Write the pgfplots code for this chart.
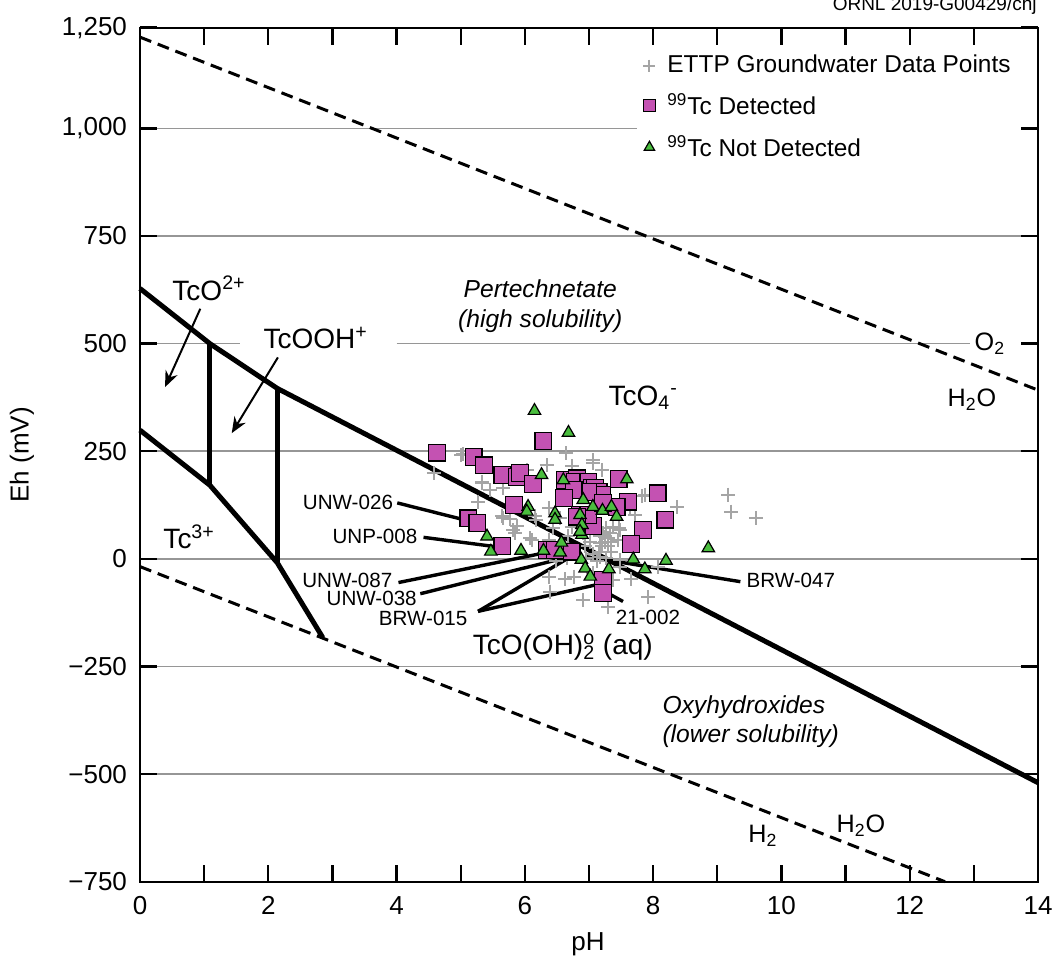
\documentclass[border=0pt]{standalone}
\usepackage{fontspec}
\setmainfont{Liberation Sans}
\usepackage{pgfplots}
\pgfplotsset{compat=1.18}
\usetikzlibrary{arrows.meta}
\definecolor{mag}{RGB}{196,82,178}
\definecolor{grn}{RGB}{74,190,62}
\definecolor{xgray}{RGB}{165,165,165}
\definecolor{ggray}{RGB}{150,150,150}
\begin{document}
\begin{tikzpicture}
\useasboundingbox (-70pt,-40pt) rectangle (456pt,440.85pt);
\begin{axis}[
  at={(0,0)}, anchor=south west,
  scale only axis, width=449pt, height=427pt,
  xmin=0, xmax=14, ymin=-750, ymax=1234,
  xtick={0,2,...,14}, minor xtick={1,3,5,7,9,11,13},
  xticklabels={0,2,4,6,8,10,12,14},
  ytick={-750,-500,-250,0,250,500,750,1000},
  yticklabels={−750,−500,−250,0,250,500,750,1{,}000},
  extra y ticks={1234}, extra y tick labels={1{,}250},
  extra tick style={grid=none},
  xtick pos=both, ytick pos=both,
  tick align=inside, major tick length=8.5pt, minor tick length=8.5pt,
  every tick/.style={black, line width=1.2pt},
  axis line style={line width=1pt},
  axis on top,
  ticklabel style={font=\fontsize{13}{15}\selectfont},
  yticklabel style={xshift=-3pt},
  xticklabel style={yshift=-4pt},
  xlabel={pH}, ylabel={Eh (mV)},
  label style={font=\fontsize{13}{15}\selectfont},
  xlabel style={at={(axis description cs:0.499,-0.0738)}, anchor=center},
  ylabel style={at={(axis description cs:-0.1314,0.5)}, anchor=center},
  clip=false,
  legend style={at={(0.5535,0.98)}, anchor=north west, draw=none, fill=white,
    font=\fontsize{12.2}{14}\selectfont, row sep=5pt, inner xsep=3pt, inner ysep=3pt,
    nodes={inner sep=2pt}, /tikz/every odd column/.append style={column sep=4pt}},
  legend cell align=left,
  legend image code/.code={\draw[mark repeat=2,mark phase=2,#1] plot coordinates {(0cm,0cm)(0.2cm,0cm)(0.4cm,0cm)};},
  legend image post style={mark size=3pt},
]
% grid lines
\addplot[ggray, line width=0.75pt, forget plot] coordinates {(0,1000)(14,1000)};
\addplot[ggray, line width=0.75pt, forget plot] coordinates {(0,750)(14,750)};
\addplot[ggray, line width=0.75pt, forget plot] coordinates {(0,500)(1.56,500)};
\addplot[ggray, line width=0.75pt, forget plot] coordinates {(4.0,500)(12.94,500)};
\addplot[ggray, line width=0.75pt, forget plot] coordinates {(0,250)(14,250)};
\addplot[ggray, line width=0.75pt, forget plot] coordinates {(0,0)(14,0)};
\addplot[ggray, line width=0.75pt, forget plot] coordinates {(0,-250)(14,-250)};
\addplot[ggray, line width=0.75pt, forget plot] coordinates {(0,-500)(14,-500)};
% tick marks (inside, all four sides)
\pgfplotsinvokeforeach{1,2,...,13}{
  \draw[black, line width=1.2pt] (axis cs:#1,-750) -- ([yshift=8.5pt]axis cs:#1,-750);
  \draw[black, line width=1.2pt] (axis cs:#1,1234) -- ([yshift=-8.5pt]axis cs:#1,1234);
}
\pgfplotsinvokeforeach{-500,-250,0,250,500,750,1000}{
  \draw[black, line width=1.2pt] (axis cs:0,#1) -- ([xshift=8.5pt]axis cs:0,#1);
  \draw[black, line width=1.2pt] (axis cs:14,#1) -- ([xshift=-8.5pt]axis cs:14,#1);
}
% water stability lines
\addplot[black, line width=1.5pt, dash pattern=on 6pt off 3.5pt, forget plot] coordinates {(0,1212)(14,392)};
\addplot[black, line width=1.5pt, dash pattern=on 6pt off 3.5pt, forget plot] coordinates {(0,-18)(12.55,-750)};
% Tc boundaries
\addplot[black, line width=2.5pt, forget plot] coordinates {(0,628)(1.09,500)(2.14,396)(14,-520)};
\addplot[black, line width=2.5pt, forget plot] coordinates {(0,299)(1.09,171)(2.14,-9)(2.85,-183)};
\addplot[black, line width=2.5pt, forget plot] coordinates {(1.09,500)(1.09,171)};
\addplot[black, line width=2.5pt, forget plot] coordinates {(2.14,396)(2.14,-9)};
% ETTP groundwater points
\addplot[only marks, mark=+, mark size=3.5pt, xgray, mark options={line width=1pt}] coordinates {
(5.04,243)(4.58,199)(6.64,245)(7.07,230)(7.20,207)(6.74,216)(6.34,218)(6.03,207)
(5.66,164)(5.27,133)(5.64,100)(5.77,92)(5.87,77)(5.85,60)(6.11,44)(6.37,44)
(6.18,91)(6.38,118)(6.44,71)(6.73,75)(6.68,52)(7.17,52)(7.25,40)(7.32,60)
(7.30,29)(7.35,17)(7.15,17)(7.48,67)(7.45,44)(7.64,121)(7.82,145)(7.95,149)
(8.37,121)(7.72,102)(9.17,149)(9.22,110)(9.60,95)(6.38,-41)(6.63,-47)(6.91,-95)
(7.30,-111)(7.38,-49)(7.92,-89)(7.66,-47)(7.07,-33)(6.76,-41)(6.49,-6)(6.65,2)
(6.94,29)(7.02,40)(6.96,2)(7.12,-6)(7.27,2)(7.48,-2)(8.08,-18)(7.48,-18)
(5.33,179)(5.46,160)(7.27,71)(7.38,75)(7.07,12)(7.17,5)(5.01,241)(5.33,176)
(5.66,94)(5.82,67)(6.08,48)(6.39,-76)(6.16,100)(7.17,37)(7.35,40)(7.25,50)
(7.20,30)(7.30,48)(7.22,60)(7.47,71)(7.87,149)(7.07,222)(6.90,60)(6.55,95)
};
\addlegendentry{ETTP Groundwater Data Points}
% Tc detected
\addplot[only marks, mark=square*, mark size=4.2pt, mark options={fill=mag, draw=black, line width=0.6pt}] coordinates {
(4.63,247)(5.20,236)(5.36,217)(5.65,195)(5.87,190)(5.92,199)(6.13,174)(6.29,274)
(6.63,183)(6.81,187)(6.78,179)(6.99,179)(7.04,164)(7.09,165)(7.15,156)(7.21,149)
(6.98,156)(6.76,160)(7.46,185)(7.61,133)(8.07,152)(8.19,91)(7.84,67)(7.65,35)
(7.07,77)(6.86,102)(6.99,102)(6.61,141)(7.43,121)(7.22,130)(5.83,125)(5.12,94)
(5.26,83)(5.65,30)(6.34,21)(6.47,21)(6.73,17)(6.81,98)(7.22,-49)(7.22,-80)
};
\addlegendentry{\textsuperscript{99}Tc Detected}
% Tc not detected
\addplot[only marks, mark=triangle*, mark size=3.6pt, mark options={fill=grn, draw=black, line width=0.6pt}] coordinates {
(6.15,344)(6.68,293)(6.26,195)(6.60,183)(7.59,185)(6.91,137)(7.06,121)(7.21,112)
(7.35,121)(7.43,98)(6.86,102)(6.89,79)(6.89,56)(6.86,63)(6.05,121)(6.03,110)
(6.47,106)(6.47,91)(5.41,52)(5.47,17)(5.94,19)(6.29,19)(6.55,15)(6.57,38)
(6.88,-2)(6.94,-22)(7.02,-41)(7.31,-24)(7.69,-1)(7.87,-24)(8.20,-4)(8.86,25)
};
\addlegendentry{\textsuperscript{99}Tc Not Detected}
% leader lines
\addplot[black, line width=1.7pt, forget plot] coordinates {(4.01,130)(5.10,89)};
\addplot[black, line width=1.7pt, forget plot] coordinates {(4.42,50)(5.51,29)};
\addplot[black, line width=1.7pt, forget plot] coordinates {(4.03,-55)(6.31,14)};
\addplot[black, line width=1.7pt, forget plot] coordinates {(4.37,-81)(6.81,9)};
\addplot[black, line width=1.7pt, forget plot] coordinates {(5.27,-122)(6.76,9)};
\addplot[black, line width=1.7pt, forget plot] coordinates {(5.27,-122)(7.12,-60)};
\addplot[black, line width=1.7pt, forget plot] coordinates {(7.20,-72)(7.53,-99)};
\addplot[black, line width=1.7pt, forget plot] coordinates {(6.96,5)(9.36,-53)};
% arrows
\draw[-{Stealth[length=8pt,width=6.5pt]}, line width=1pt] (axis cs:0.94,581) -- (axis cs:0.39,399);
\draw[-{Stealth[length=8pt,width=6.5pt]}, line width=1pt] (axis cs:2.15,468) -- (axis cs:1.43,292);
% labels
\begin{scope}[every node/.style={inner sep=0pt, font=\fontsize{10.3}{12}\selectfont}]
\node[anchor=east] at (axis cs:3.95,132) {UNW-026};
\node[anchor=east] at (axis cs:4.33,51) {UNP-008};
\node[anchor=east] at (axis cs:3.94,-49) {UNW-087};
\node[anchor=east] at (axis cs:4.32,-93) {UNW-038};
\node[anchor=east] at (axis cs:5.11,-138) {BRW-015};
\node[anchor=center] at (axis cs:7.92,-135) {21-002};
\node[anchor=west] at (axis cs:9.45,-49) {BRW-047};
\end{scope}
\begin{scope}[every node/.style={inner sep=0pt, font=\fontsize{14}{16}\selectfont}]
\node[anchor=base west] at (axis cs:0.50,601) {TcO\textsuperscript{2+}};
\node[anchor=base west] at (axis cs:1.92,488) {TcOOH\textsuperscript{+}};
\node[anchor=base west] at (axis cs:0.36,23) {Tc\textsuperscript{3+}};
\node[anchor=base west] at (axis cs:7.30,357) {TcO\textsubscript{4}\textsuperscript{-}};
\node[anchor=base east] at (axis cs:8.0,-223) {TcO(OH)\rlap{\textsuperscript{o}}\textsubscript{2} (aq)};
\end{scope}
\begin{scope}[every node/.style={inner sep=0pt, font=\fontsize{12.6}{14}\selectfont}]
\node[anchor=base] at (axis cs:13.25,485) {O\textsubscript{2}};
\node[anchor=base] at (axis cs:12.97,353) {H\textsubscript{2}O};
\node[anchor=base] at (axis cs:9.71,-659) {H\textsubscript{2}};
\node[anchor=base] at (axis cs:11.24,-636) {H\textsubscript{2}O};
\end{scope}
\node[inner sep=0pt, align=center, font=\fontsize{12.3}{15}\selectfont\itshape] at (axis cs:6.24,587) {Pertechnetate\\(high solubility)};
\node[inner sep=0pt, align=left, anchor=west, font=\fontsize{12.3}{14.5}\selectfont\itshape] at (axis cs:8.14,-378) {Oxyhydroxides\\(lower solubility)};
\end{axis}
\node[anchor=base east, inner sep=0pt, font=\fontsize{9.5}{11}\selectfont] at (448.5pt,435.35pt) {ORNL 2019-G00429/chj};
\end{tikzpicture}
\end{document}
